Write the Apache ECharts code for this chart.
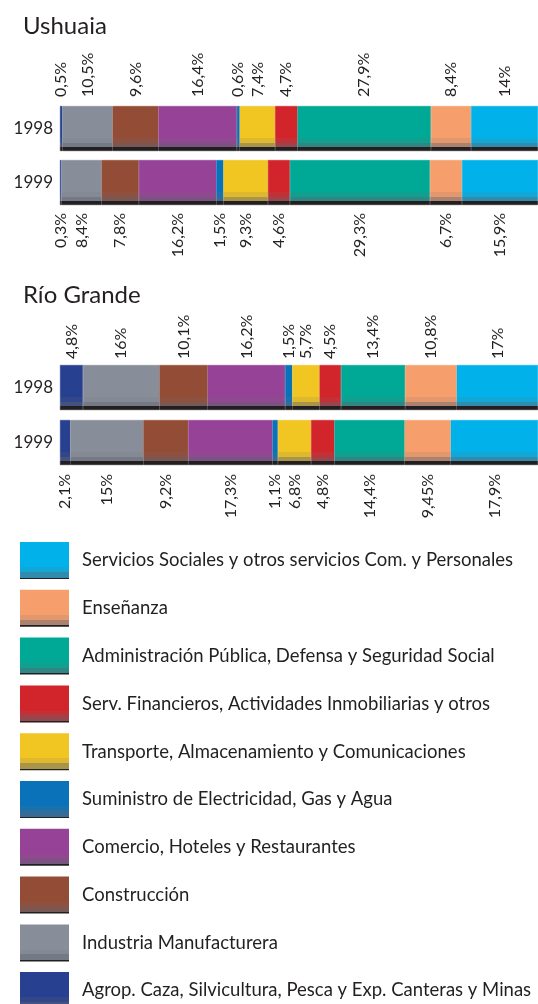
<!DOCTYPE html>
<html>
<head>
<meta charset="utf-8">
<script src="https://cdn.jsdelivr.net/npm/echarts@6/dist/echarts.min.js"></script>
<style>
  html, body { margin: 0; padding: 0; background: #fff; }
  #chart { width: 538px; height: 1004px; }
</style>
</head>
<body>
<div id="chart"></div>
<script>
// sectors, left to right in the bars
const sectors = [
  "Agrop. Caza, Silvicultura, Pesca y Exp. Canteras y Minas",
  "Industria Manufacturera",
  "Construcción",
  "Comercio, Hoteles y Restaurantes",
  "Suministro de Electricidad, Gas y Agua",
  "Transporte, Almacenamiento y Comunicaciones",
  "Serv. Financieros, Actividades Inmobiliarias y otros",
  "Administración Pública, Defensa y Seguridad Social",
  "Enseñanza",
  "Servicios Sociales y otros servicios Com. y Personales",
]
const sectorColors = [
  "#27408f", "#878d99", "#934c36", "#964296", "#0a72b8",
  "#f1c522", "#d2252b", "#00a896", "#f79e6d", "#00b2e9",
]

const ushuaia1998 = [0.5, 10.5, 9.6, 16.4, 0.6, 7.4, 4.7, 27.9, 8.4, 14]
const ushuaia1999 = [0.3, 8.4, 7.8, 16.2, 1.5, 9.3, 4.6, 29.3, 6.7, 15.9]
const rioGrande1998 = [4.8, 16, 10.1, 16.2, 1.5, 5.7, 4.5, 13.4, 10.8, 17]
const rioGrande1999 = [2.1, 15, 9.2, 17.3, 1.1, 6.8, 4.8, 14.4, 9.45, 17.9]

const cities = ["Ushuaia", "Río Grande"]
const years = ["1998", "1999"]

// one grid per bar
const bars = [
  { values: ushuaia1998, year: years[0], top: 106, labelPos: "top", dist: 9 },
  { values: ushuaia1999, year: years[1], top: 160, labelPos: "bottom", dist: 8 },
  { values: rioGrande1998, year: years[0], top: 365, labelPos: "top", dist: 6 },
  { values: rioGrande1999, year: years[1], top: 420, labelPos: "bottom", dist: 9 },
]

const ink = "#231f20"
const font = "Lato, 'Open Sans', sans-serif"

const mix = (a, b, t) => {
  const pa = [1, 3, 5].map((i) => parseInt(a.slice(i, i + 2), 16))
  const pb = [1, 3, 5].map((i) => parseInt(b.slice(i, i + 2), 16))
  return "rgb(" + pa.map((v, i) => Math.round(v + (pb[i] - v) * t)).join(",") + ")"
}

const shade = (c, s1, s2, s3) => {
  const m1 = mix(c, "#707070", 0.15)
  const m2 = mix(c, "#5f6470", 0.5)
  return new echarts.graphic.LinearGradient(0, 0, 0, 1, [
    { offset: 0, color: c },
    { offset: s1, color: c },
    { offset: s1, color: m1 },
    { offset: s2, color: m1 },
    { offset: s2, color: m2 },
    { offset: s3, color: m2 },
    { offset: s3, color: ink },
    { offset: 1, color: ink },
  ])
}

const fmt = (v) => String(v).replace(".", ",") + "%"

const grids = []
const xAxes = []
const yAxes = []
const series = []

bars.forEach((b, g) => {
  grids.push({ left: 60, right: 0, top: b.top, height: 45 })
  xAxes.push({
    type: "value",
    gridIndex: g,
    min: 0,
    max: b.values.reduce((s, v) => s + v, 0),
    show: false,
  })
  yAxes.push({
    type: "category",
    gridIndex: g,
    data: [b.year],
    axisLine: { show: false },
    axisTick: { show: false },
    axisLabel: { fontSize: 17, color: ink, fontFamily: font, margin: 7 },
  })
  sectors.forEach((name, k) => {
    const grad = shade(sectorColors[k], 0.71, 0.82, 0.92)
    series.push({
      type: "bar",
      name: name,
      stack: "s" + g,
      xAxisIndex: g,
      yAxisIndex: g,
      barWidth: "100%",
      data: [b.values[k]],
      itemStyle: { color: grad, borderColor: grad, borderWidth: 0.5 },
      label: {
        show: true,
        position: b.labelPos,
        distance: b.dist,
        rotate: 90,
        align: b.labelPos === "top" ? "left" : "right",
        verticalAlign: "middle",
        fontSize: 16,
        fontFamily: font,
        color: ink,
        formatter: (p) => fmt(p.value),
      },
      emphasis: { disabled: true },
    })
  })
})

const legendData = sectors
  .map((name, k) => ({
    name: name,
    itemStyle: { color: shade(sectorColors[k], 0.68, 0.81, 0.96), borderWidth: 0 },
  }))
  .reverse()

const legendBase = {
  orient: "vertical",
  left: 20,
  padding: 0,
  icon: "rect",
  itemWidth: 49,
  itemHeight: 37,
  itemGap: 10.8,
  selectedMode: false,
  textStyle: { fontSize: 18.5, color: ink, fontFamily: font, padding: [0, 0, 0, 8] },
}

const chart = echarts.init(document.getElementById("chart"))
chart.setOption({
  animation: false,
  backgroundColor: "#fff",
  title: [
    {
      text: cities[0],
      left: 18,
      top: 9,
      textStyle: { fontSize: 24, fontWeight: "normal", color: ink, fontFamily: font },
    },
    {
      text: cities[1],
      left: 18,
      top: 278,
      textStyle: { fontSize: 24, fontWeight: "normal", color: ink, fontFamily: font },
    },
  ],
  legend: [
    Object.assign({}, legendBase, { top: 542, data: legendData.slice(0, 9) }),
    Object.assign({}, legendBase, { top: 972, data: legendData.slice(9) }),
  ],
  grid: grids,
  xAxis: xAxes,
  yAxis: yAxes,
  series: series,
})
</script>
</body>
</html>
